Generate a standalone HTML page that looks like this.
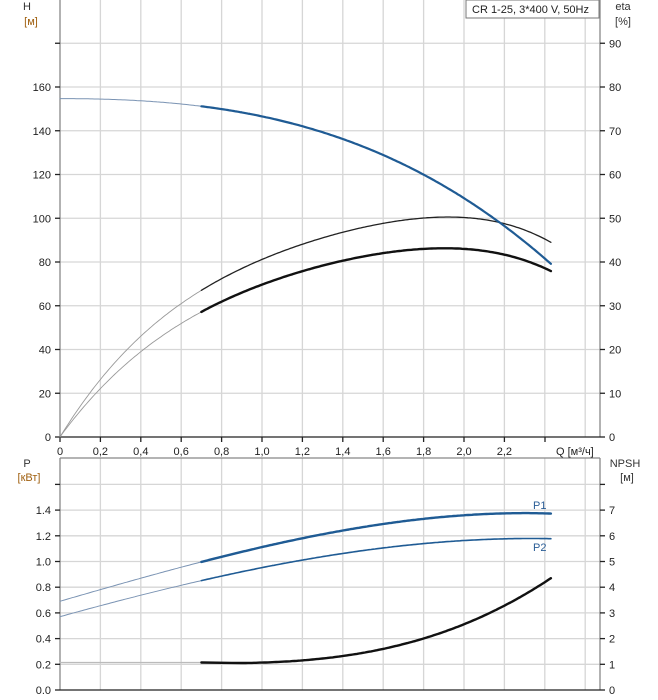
<!DOCTYPE html>
<html><head><meta charset="utf-8"><style>
html,body{margin:0;padding:0;background:#fff}
svg{display:block;font-family:"Liberation Sans",sans-serif;font-size:11px}
</style></head><body>
<svg id="s" width="658" height="700" xmlns="http://www.w3.org/2000/svg">
<g id="grid" stroke="#d6d6d6" stroke-width="1.3"></g>
<g id="txt" fill="#222"></g>
<g id="curves" fill="none" stroke-linecap="round" stroke-linejoin="round"></g>
</svg>
<script>
var NS="http://www.w3.org/2000/svg";
function el(p,t,a,txt){var e=document.createElementNS(NS,t);for(var k in a)e.setAttribute(k,a[k]);if(txt!==undefined)e.textContent=txt;document.getElementById(p).appendChild(e);return e;}
var X=function(q){return 60+202*q;};
var vx=[];for(var i=1;i<=13;i++)vx.push(60+i*40.4);
vx.forEach(function(x){el('grid','line',{x1:x,y1:0,x2:x,y2:437});el('grid','line',{x1:x,y1:458,x2:x,y2:690});});
for(var h=20;h<=200;h+=20){var y=437-h*2.1875;if(y>=0)el('grid','line',{x1:60,y1:y,x2:600,y2:y});}
for(var p=0.2;p<=1.65;p+=0.2){var y=690-p*128.5;el('grid','line',{x1:60,y1:y,x2:600,y2:y});}
el('grid','line',{x1:60,y1:0,x2:60,y2:437,stroke:'#888'});
el('grid','line',{x1:600,y1:0,x2:600,y2:437,stroke:'#888'});
el('grid','line',{x1:60,y1:437,x2:600,y2:437,stroke:'#222'});
el('grid','line',{x1:60,y1:458,x2:600,y2:458,stroke:'#888'});
el('grid','line',{x1:60,y1:458,x2:60,y2:690,stroke:'#888'});
el('grid','line',{x1:600,y1:458,x2:600,y2:690,stroke:'#888'});
el('grid','line',{x1:60,y1:690,x2:600,y2:690,stroke:'#222'});
for(var h=0;h<=180;h+=20){var y=437-h*2.1875;el('grid','line',{x1:55,y1:y,x2:60,y2:y,stroke:'#222'});if(h<=160)el('txt','text',{x:51,y:y+4,'text-anchor':'end'},String(h));}
for(var e=0;e<=90;e+=10){var y=437-e*4.375;el('grid','line',{x1:600,y1:y,x2:605,y2:y,stroke:'#222'});el('txt','text',{x:609,y:y+4},String(e));}
var ql=['0','0,2','0,4','0,6','0,8','1,0','1,2','1,4','1,6','1,8','2,0','2,2'];
ql.forEach(function(s,i){var x=60+i*40.4;el('grid','line',{x1:x,y1:437,x2:x,y2:442,stroke:'#222'});el('txt','text',{x:x,y:455,'text-anchor':'middle'},s);});
el('grid','line',{x1:545,y1:437,x2:545,y2:442,stroke:'#222'});
el('txt','text',{x:556,y:455},'Q [м³/ч]');
var pl=['0.0','0.2','0.4','0.6','0.8','1.0','1.2','1.4'];
for(var i=0;i<=8;i++){var y=690-i*25.7;el('grid','line',{x1:55,y1:y,x2:60,y2:y,stroke:'#222'});el('grid','line',{x1:600,y1:y,x2:605,y2:y,stroke:'#222'});if(i<8){el('txt','text',{x:51,y:y+4,'text-anchor':'end'},pl[i]);el('txt','text',{x:609,y:y+4},String(i));}}
el('txt','text',{x:27,y:10,'text-anchor':'middle',fill:'#333'},'H');
el('txt','text',{x:31,y:25,'text-anchor':'middle',fill:'#a06010'},'[м]');
el('txt','text',{x:623,y:10,'text-anchor':'middle',fill:'#333'},'eta');
el('txt','text',{x:623,y:25,'text-anchor':'middle',fill:'#333'},'[%]');
el('txt','text',{x:27,y:467,'text-anchor':'middle',fill:'#333'},'P');
el('txt','text',{x:29,y:481,'text-anchor':'middle',fill:'#a06010'},'[кВт]');
el('txt','text',{x:625,y:467,'text-anchor':'middle',fill:'#333'},'NPSH');
el('txt','text',{x:627,y:481,'text-anchor':'middle',fill:'#333'},'[м]');
el('grid','rect',{x:466,y:0,width:133,height:18,fill:'#fff',stroke:'#777','stroke-width':1});
el('txt','text',{x:472,y:13},'CR 1-25, 3*400 V, 50Hz');
el('txt','text',{x:533,y:509,fill:'#2a5d96'},'P1');
el('txt','text',{x:533,y:551,fill:'#2a5d96'},'P2');
function polyfit(d,n){var m=n+1,A=[],b=[];for(var i=0;i<m;i++){A.push(new Array(m).fill(0));b.push(0);}
d.forEach(function(p){for(var i=0;i<m;i++){b[i]+=Math.pow(p[0],i)*p[1];for(var j=0;j<m;j++)A[i][j]+=Math.pow(p[0],i+j);}});
for(var i=0;i<m;i++){var mx=i;for(var k=i+1;k<m;k++)if(Math.abs(A[k][i])>Math.abs(A[mx][i]))mx=k;var t=A[i];A[i]=A[mx];A[mx]=t;t=b[i];b[i]=b[mx];b[mx]=t;
for(var k=i+1;k<m;k++){var f=A[k][i]/A[i][i];for(var j=i;j<m;j++)A[k][j]-=f*A[i][j];b[k]-=f*b[i];}}
var c=new Array(m).fill(0);for(var i=m-1;i>=0;i--){var s=b[i];for(var j=i+1;j<m;j++)s-=A[i][j]*c[j];c[i]=s/A[i][i];}
return function(q){var s=0;for(var i=0;i<m;i++)s+=c[i]*Math.pow(q,i);return s;};}
function draw(data,deg,fy,c1,w1,c2,w2){var f=polyfit(data,deg);var a=[],b=[];
for(var q=0;q<=0.7001;q+=0.01)a.push([X(q),fy(f(q))]);for(var q=0.7;q<=2.4301;q+=0.01)b.push([X(q),fy(f(q))]);
var str=function(arr){return arr.map(function(p){return p[0].toFixed(1)+','+p[1].toFixed(1);}).join(' ');};
el('curves','polyline',{points:str(a),stroke:c1,'stroke-width':w1});el('curves','polyline',{points:str(b),stroke:c2,'stroke-width':w2});}
var fH=function(v){return 437-v*2.1875;},fE=function(v){return 437-v*4.375;},fP=function(v){return 690-v*128.5;},fN=function(v){return 690-v*25.7;};
draw([[0,0],[0.1,7],[0.3,18.5],[0.5,27],[0.7,33.6],[1.0,40.5],[1.4,46.7],[1.8,50.3],[2.0,50.2],[2.2,48.5],[2.43,44.6]],4,fE,'#999',0.9,'#222',1.3);
draw([[0,0],[0.1,6],[0.3,15.5],[0.5,23],[0.7,28.6],[1.0,34.8],[1.4,40.2],[1.8,43.2],[2.0,43],[2.2,41.5],[2.43,38]],4,fE,'#999',0.9,'#111',2.4);
draw([[0,154.7],[0.2,154.6],[0.4,153.6],[0.7,151],[1.0,146.5],[1.4,137],[1.8,119],[2.2,97],[2.43,79]],3,fH,'#7a93b3',1,'#1f5b94',2.2);
draw([[0,0.69],[0.7,1.0],[1.0,1.11],[1.4,1.24],[1.8,1.33],[2.2,1.38],[2.43,1.37]],3,fP,'#7a93b3',1,'#1f5b94',2.4);
draw([[0,0.57],[0.7,0.855],[1.0,0.95],[1.4,1.06],[1.8,1.14],[2.2,1.18],[2.43,1.175]],3,fP,'#7a93b3',1,'#1f5b94',1.6);
var nd=[[0,1.07],[0.3,1.07],[0.5,1.07],[0.7,1.07],[0.9,1.05],[1.2,1.15],[1.5,1.45],[1.8,2.0],[2.1,2.9],[2.43,4.35]];
(function(){var f=polyfit(nd.slice(4),3);var a=[],b=[];
var str=function(arr){return arr.map(function(p){return p[0].toFixed(1)+','+p[1].toFixed(1);}).join(' ');};
el('curves','polyline',{points:X(0)+','+fN(1.07)+' '+X(0.7)+','+fN(1.07),stroke:'#bbb','stroke-width':1.2});
b.push([X(0.7),fN(1.07)]);b.push([X(0.85),fN(1.055)]);for(var q=0.9;q<=2.4301;q+=0.01)b.push([X(q),fN(f(q))]);
el('curves','polyline',{points:str(b),stroke:'#111','stroke-width':2.4});})();
</script>
</body></html>
